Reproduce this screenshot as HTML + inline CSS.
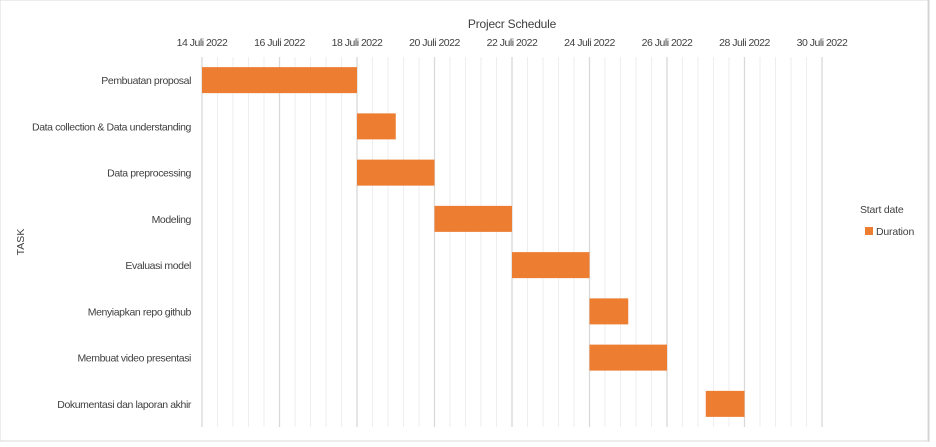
<!DOCTYPE html>
<html><head><meta charset="utf-8"><style>
html,body{margin:0;padding:0;background:#fff;}
body{width:936px;height:442px;overflow:hidden;font-family:"Liberation Sans",sans-serif;}
svg text{font-family:"Liberation Sans",sans-serif;fill:#404040;}
</style></head><body>
<svg id="chart" width="936" height="442" xmlns="http://www.w3.org/2000/svg">
<rect x="0" y="0" width="928" height="441" fill="#fff" stroke="#d9d9d9"/>
<line x1="929" y1="0" x2="929" y2="442" stroke="#d0d0d0"/>
<text x="512" y="28" font-size="12" letter-spacing="-0.2" text-anchor="middle">Projecr Schedule</text>
<text transform="translate(24,242) rotate(-90)" font-size="10.5" text-anchor="middle">TASK</text>
<text x="860" y="213" font-size="10.5" letter-spacing="-0.2">Start date</text>
<rect x="865" y="227" width="8" height="8" fill="#ed7d31"/>
<text x="876" y="235" font-size="10.5" letter-spacing="-0.2">Duration</text>
<g id="grid"></g><g id="bars"></g><g id="labels"></g>
</svg>
<script>
const tasks=["Pembuatan proposal","Data collection & Data understanding","Data preprocessing","Modeling","Evaluasi model","Menyiapkan repo github","Membuat video presentasi","Dokumentasi dan laporan akhir"];
const startDay=[14,18,18,20,22,24,24,27];
const duration=[4,1,2,2,2,1,2,1];
const tickDays=[14,16,18,20,22,24,26,28,30];
const tickLabels=["14 Juli 2022","16 Juli 2022","18 Juli 2022","20 Juli 2022","22 Juli 2022","24 Juli 2022","26 Juli 2022","28 Juli 2022","30 Juli 2022"];
const NS="http://www.w3.org/2000/svg";
const x0=202,pxPerDay=38.75,plotTop=57,plotBottom=427,rowH=(plotBottom-plotTop)/tasks.length;
function xs(d){return x0+(d-14)*pxPerDay;}
function yc(i){return plotTop+rowH*(i+0.5);}
const grid=document.getElementById('grid'),bars=document.getElementById('bars'),labels=document.getElementById('labels');
for(let k=0;k<=40;k++){
  const d=14+k*0.4;
  const l=document.createElementNS(NS,'line');
  l.setAttribute('x1',xs(d));l.setAttribute('x2',xs(d));l.setAttribute('y1',plotTop);l.setAttribute('y2',plotBottom);
  const major=(k%5===0);
  l.setAttribute('stroke',major?'#d9d9d9':'#eeeeee');l.setAttribute('stroke-width',major?1.3:1);
  
  
  grid.appendChild(l);
}
tickDays.forEach((d,i)=>{
  const t=document.createElementNS(NS,'text');
  t.setAttribute('x',xs(d));t.setAttribute('y',46);t.setAttribute('font-size','10.5');t.setAttribute('letter-spacing','-0.5');t.setAttribute('text-anchor','middle');
  t.textContent=tickLabels[i];
  
  
  labels.appendChild(t);
});
tasks.forEach((name,i)=>{
  const t=document.createElementNS(NS,'text');
  t.setAttribute('x',191);t.setAttribute('y',yc(i)+4);t.setAttribute('font-size','10.5');t.setAttribute('letter-spacing','-0.4');t.setAttribute('text-anchor','end');
  t.textContent=name;
  
  
  labels.appendChild(t);
  const r=document.createElementNS(NS,'rect');
  r.setAttribute('x',xs(startDay[i]));r.setAttribute('y',yc(i)-13);
  r.setAttribute('width',duration[i]*pxPerDay);r.setAttribute('height',26);
  r.setAttribute('fill','#ed7d31');
  
  
  bars.appendChild(r);
});
</script>
</body></html>
